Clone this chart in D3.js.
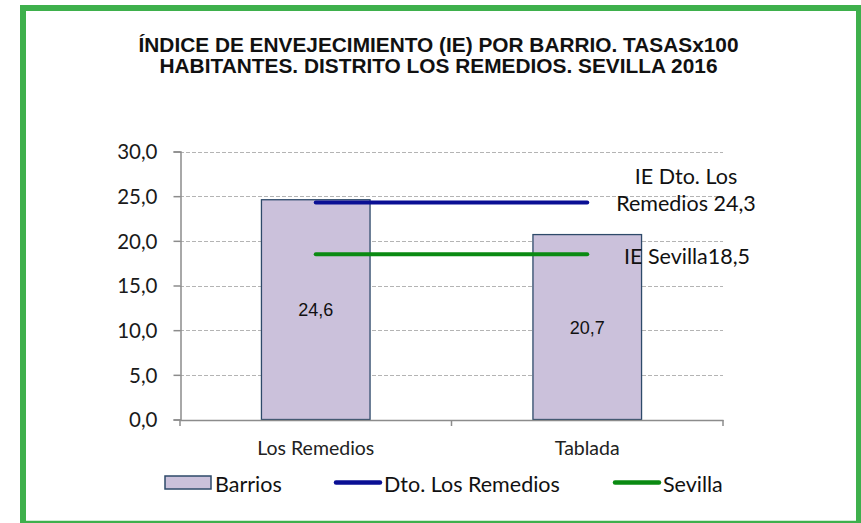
<!DOCTYPE html>
<html>
<head>
<meta charset="utf-8">
<script src="https://cdn.jsdelivr.net/npm/d3@7"></script>
<style>
  html, body { margin: 0; padding: 0; background: #ffffff; }
  svg { display: block; }
</style>
</head>
<body>
<div id="chart"></div>
<script>
// Chart data
const barrios = ["Los Remedios", "Tablada"];
const ieBarrios = [24.6, 20.7];
const ieDistrito = 24.3;
const ieSevilla = 18.5;
const yTicks = [0, 5, 10, 15, 20, 25, 30];
const titleLines = [
    "ÍNDICE DE ENVEJECIMIENTO (IE) POR BARRIO. TASASx100",
    "HABITANTES. DISTRITO LOS REMEDIOS. SEVILLA 2016"
];
const legendLabels = ["Barrios", "Dto. Los Remedios", "Sevilla"];

const width = 861;
const height = 523;
const calibri = "Lato, 'Open Sans', sans-serif";
const arial = "'Liberation Sans', Arial, sans-serif";

const barFill = "#cbc1db";
const barStroke = "#2e4a6a";
const blue = "#0a0f94";
const green = "#0a8a12";
const frameGreen = "#3eb04c";

const svg = d3.select("#chart")
    .append("svg")
    .attr("width", width)
    .attr("height", height);

// green frame: thick left, top and right, thin bottom
svg.append("path")
    .attr("d", "M23,523 L23,8 L859,8 L859,523")
    .attr("fill", "none")
    .attr("stroke", frameGreen)
    .attr("stroke-width", 6);
svg.append("line")
    .attr("x1", 20)
    .attr("x2", 861)
    .attr("y1", 522)
    .attr("y2", 522)
    .attr("stroke", frameGreen)
    .attr("stroke-width", 2.5);

// title
const title = svg.append("text")
    .attr("text-anchor", "middle")
    .attr("font-family", arial)
    .attr("font-weight", "bold")
    .attr("font-size", "19.5px")
    .attr("fill", "#111111");
const titleWidths = [600, 558];
titleLines.forEach((t, i) => {
    title.append("tspan")
        .attr("x", 438.5)
        .attr("y", 51.5 + i * 21)
        .attr("textLength", titleWidths[i])
        .attr("lengthAdjust", "spacingAndGlyphs")
        .text(t);
});

// scales
const x = d3.scaleBand()
    .domain(barrios)
    .range([180, 723])
    .padding(0);

const y = d3.scaleLinear()
    .domain([0, 30])
    .range([419.5, 151.5]);

const barWidth = x.bandwidth() * 0.4;
const cx = d => x(d) + x.bandwidth() / 2;

// grid
svg.append("g")
    .selectAll("line")
    .data(yTicks.filter(d => d > 0))
    .enter()
    .append("line")
    .attr("x1", 180)
    .attr("x2", 723)
    .attr("y1", d => Math.round(y(d)) + 0.5)
    .attr("y2", d => Math.round(y(d)) + 0.5)
    .attr("stroke", "#b4b4b4")
    .attr("stroke-width", 1)
    .attr("stroke-dasharray", "4,2");

// y axis
const yAxis = svg.append("g")
    .attr("transform", "translate(180.5,0)")
    .call(d3.axisLeft(y)
        .tickValues(yTicks)
        .tickSize(7)
        .tickPadding(16)
        .tickFormat(d => d3.format(".1f")(d).replace(".", ",")));
yAxis.select(".domain").attr("stroke", "#8c8c8c").attr("stroke-width", 1.5);
yAxis.selectAll(".tick line").attr("stroke", "#8c8c8c").attr("stroke-width", 1.5);
yAxis.selectAll(".tick text")
    .attr("font-family", calibri)
    .attr("font-size", "20.5px")
    .attr("fill", "#1a1a1a")
    .attr("dy", "0.36em");

// bars
svg.append("g")
    .selectAll("rect")
    .data(ieBarrios)
    .enter()
    .append("rect")
    .attr("x", (d, i) => cx(barrios[i]) - barWidth / 2)
    .attr("y", d => y(d))
    .attr("width", barWidth)
    .attr("height", d => y(0) - y(d))
    .attr("fill", barFill)
    .attr("stroke", barStroke)
    .attr("stroke-width", 1.3);

// x axis
const xAxis = svg.append("g")
    .attr("transform", "translate(0," + (y(0) + 0.5) + ")")
    .call(d3.axisBottom(x).tickSize(0).tickPadding(0));
xAxis.select(".domain").attr("stroke", "#8c8c8c").attr("stroke-width", 1.5);
xAxis.selectAll(".tick text")
    .attr("font-family", calibri)
    .attr("font-size", "19.5px")
    .attr("fill", "#222222")
    .attr("y", 35)
    .attr("dy", 0);
// boundary ticks between categories
xAxis.append("g")
    .selectAll("line")
    .data(barrios.map(d => x(d)).concat([x.range()[1]]))
    .enter()
    .append("line")
    .attr("x1", d => d)
    .attr("x2", d => d)
    .attr("y1", 0)
    .attr("y2", 6)
    .attr("stroke", "#8c8c8c")
    .attr("stroke-width", 1.5);

// bar value labels
svg.append("g")
    .selectAll("text")
    .data(ieBarrios)
    .enter()
    .append("text")
    .attr("x", (d, i) => cx(barrios[i]))
    .attr("y", d => (y(d) + y(0)) / 2)
    .attr("dy", "0.36em")
    .attr("text-anchor", "middle")
    .attr("font-family", arial)
    .attr("font-size", "18px")
    .attr("fill", "#111111")
    .text(d => d3.format(".1f")(d).replace(".", ","));

// reference lines (district and city)
const refs = [
    { value: ieDistrito, color: blue },
    { value: ieSevilla, color: green }
];
svg.append("g")
    .selectAll("line")
    .data(refs)
    .enter()
    .append("line")
    .attr("x1", cx(barrios[0]))
    .attr("x2", cx(barrios[barrios.length - 1]))
    .attr("y1", d => y(d.value))
    .attr("y2", d => y(d.value))
    .attr("stroke", d => d.color)
    .attr("stroke-width", 4)
    .attr("stroke-linecap", "round");

// annotations
const fmt = v => d3.format(".1f")(v).replace(".", ",");
const ann = svg.append("g")
    .attr("font-family", calibri)
    .attr("font-size", "21.5px")
    .attr("fill", "#111111");
ann.append("text")
    .attr("x", 686)
    .attr("y", y(ieDistrito) - 18)
    .attr("text-anchor", "middle")
    .text("IE Dto. Los");
ann.append("text")
    .attr("x", 686)
    .attr("y", y(ieDistrito) + 9)
    .attr("text-anchor", "middle")
    .text("Remedios " + fmt(ieDistrito));
ann.append("text")
    .attr("x", 624)
    .attr("y", y(ieSevilla) + 10)
    .text("IE Sevilla" + fmt(ieSevilla));

// legend
const legend = svg.append("g")
    .attr("font-family", calibri)
    .attr("font-size", "21.5px")
    .attr("fill", "#111111");
const legendX = [165, 334, 613];
legend.append("rect")
    .attr("x", legendX[0])
    .attr("y", 476)
    .attr("width", 46)
    .attr("height", 13)
    .attr("fill", barFill)
    .attr("stroke", barStroke)
    .attr("stroke-width", 1.5);
[blue, green].forEach((c, i) => {
    legend.append("line")
        .attr("x1", legendX[i + 1] + 2)
        .attr("x2", legendX[i + 1] + 46)
        .attr("y1", 482.5)
        .attr("y2", 482.5)
        .attr("stroke", c)
        .attr("stroke-width", 4.5)
        .attr("stroke-linecap", "round");
});
legendLabels.forEach((t, i) => {
    legend.append("text")
        .attr("x", legendX[i] + 50)
        .attr("y", 491.5)
        .text(t);
});
</script>
</body>
</html>
